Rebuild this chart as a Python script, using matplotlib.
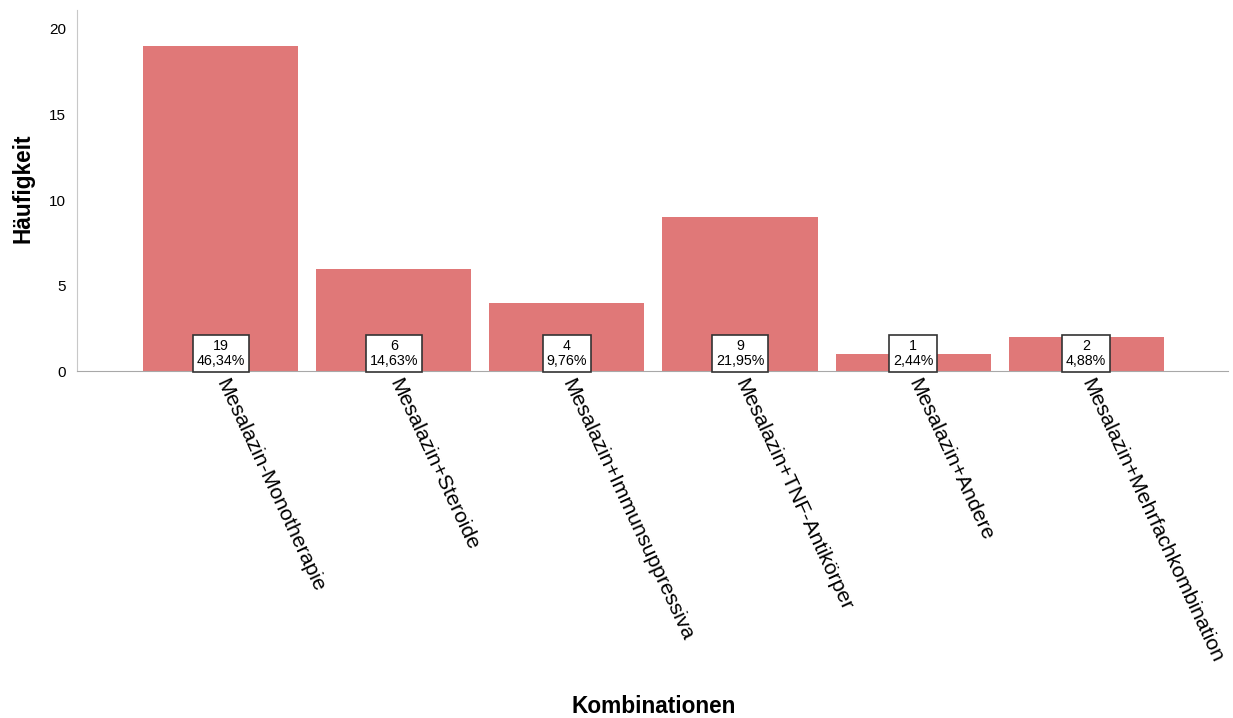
import matplotlib.pyplot as plt

plt.rcParams['font.family'] = ['Liberation Sans', 'DejaVu Sans']

kategorien = ["Mesalazin-Monotherapie", "Mesalazin+Steroide", "Mesalazin+Immunsuppressiva",
              "Mesalazin+TNF-Antikörper", "Mesalazin+Andere", "Mesalazin+Mehrfachkombination"]
haeufigkeit = [19, 6, 4, 9, 1, 2]
prozent = ["46,34%", "14,63%", "9,76%", "21,95%", "2,44%", "4,88%"]

fig = plt.figure(figsize=(12.33, 7.18), dpi=100)
ax = fig.add_axes([0.0625, 0.483, 0.9335, 0.503])

x = range(len(kategorien))
ax.bar(x, haeufigkeit, width=0.896, color="#e07878", edgecolor="none", zorder=2)

for i, (n, p) in enumerate(zip(haeufigkeit, prozent)):
    ax.annotate(f"{n}\n{p}", xy=(i, 0), xytext=(0, 2.5), textcoords="offset points",
                ha="center", va="bottom", fontsize=10.3, linespacing=1.05,
                bbox=dict(boxstyle="square,pad=0.28", fc="white", ec="#333333", lw=1.2),
                zorder=3)

ax.set_xlim(-0.83, 5.82)
ax.set_ylim(0, 21.1)
ax.set_yticks([0, 5, 10, 15, 20])
ax.set_xticks(list(x))
ax.set_xticklabels(kategorien, rotation=-65, ha="left", va="center",
                   rotation_mode="anchor", fontsize=15.3)
ax.tick_params(axis="x", length=0, pad=6)
ax.tick_params(axis="y", length=0, pad=8, labelsize=11)

for s in ["top", "right"]:
    ax.spines[s].set_visible(False)
ax.spines["left"].set_color("#c8c8c8")
ax.spines["bottom"].set_color("#a8a8a8")

# Achsentitel
fig.text(0.019, 0.738, "Häufigkeit", rotation=90, ha="center", va="center",
         fontsize=16.3, fontweight="bold")
fig.text(0.53, 0.007, "Kombinationen", ha="center", va="baseline",
         fontsize=16.3, fontweight="bold")

fig.savefig("out.png", dpi=100)
